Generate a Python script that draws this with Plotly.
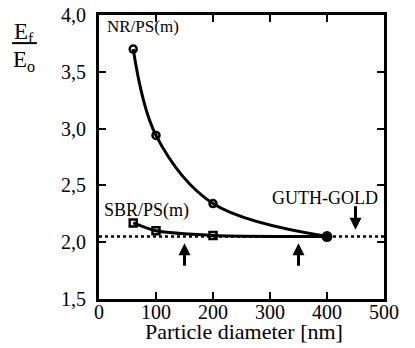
import plotly.graph_objects as go

# Data
nr_x = [60, 100, 200, 400]
nr_y = [3.70, 2.94, 2.34, 2.05]
sbr_x = [60, 100, 200, 400]
sbr_y = [2.17, 2.10, 2.06, 2.05]
guth_x = [400]
guth_y = [2.05]
guth_level = 2.05
x_range = [0, 500]
y_range = [1.5, 4.0]
x_ticks = [0, 100, 200, 300, 400, 500]
y_ticks = [1.5, 2.0, 2.5, 3.0, 3.5, 4.0]
up_arrow_x = [150, 350]
down_arrow_x = [450]

FONT = "Liberation Serif"
BLK = "black"

fig = go.Figure()

fig.add_trace(go.Scatter(x=x_range, y=[guth_level, guth_level], mode="lines",
                         line=dict(color=BLK, width=2.5, dash="dot"), hoverinfo="skip"))
fig.add_trace(go.Scatter(x=nr_x, y=nr_y, mode="lines",
                         line=dict(color=BLK, width=3, shape="spline", smoothing=1.0), hoverinfo="skip"))
fig.add_trace(go.Scatter(x=nr_x[:3], y=nr_y[:3], mode="markers",
                         marker=dict(symbol="circle-open", size=7, color=BLK, line=dict(width=2.5))))
fig.add_trace(go.Scatter(x=sbr_x, y=sbr_y, mode="lines",
                         line=dict(color=BLK, width=3, shape="spline", smoothing=0.6), hoverinfo="skip"))
fig.add_trace(go.Scatter(x=sbr_x[:3], y=sbr_y[:3], mode="markers",
                         marker=dict(symbol="square-open", size=7, color=BLK, line=dict(width=2.5))))
fig.add_trace(go.Scatter(x=guth_x, y=guth_y, mode="markers",
                         marker=dict(symbol="circle", size=11, color=BLK)))

ann = []
for xa in up_arrow_x:
    ann.append(dict(x=xa, y=1.99, ax=xa, ay=1.78, xref="x", yref="y", axref="x", ayref="y",
                    showarrow=True, arrowhead=2, arrowsize=0.8, arrowwidth=3, arrowcolor=BLK, text=""))
for xa in down_arrow_x:
    ann.append(dict(x=xa, y=2.11, ax=xa, ay=2.33, xref="x", yref="y", axref="x", ayref="y",
                    showarrow=True, arrowhead=2, arrowsize=0.8, arrowwidth=3, arrowcolor=BLK, text=""))

def label(x, y, text, size, ref="x"):
    return dict(x=x, y=y, xref="x" if ref == "x" else "paper", yref="y" if ref == "x" else "paper",
                text=text, showarrow=False, xanchor="center", yanchor="middle",
                font=dict(family=FONT, size=size, color=BLK))

ann.append(label(78, 3.90, "NR/PS(m)", 17))
ann.append(label(84, 2.28, "SBR/PS(m)", 18))
ann.append(label(396, 2.386, "GUTH-GOLD", 18))
# y-axis fraction label
ann.append(label(-0.263, 0.938, "E<sub>f</sub>", 23, ref="paper"))
ann.append(label(-0.263, 0.838, "E<sub>o</sub>", 23, ref="paper"))
# x-axis title
ann.append(label(0.509, -0.116, "Particle diameter [nm]", 22, ref="paper"))

fig.update_layout(
    width=407, height=340,
    margin=dict(l=91, r=31, t=7, b=49, autoexpand=False),
    paper_bgcolor="white", plot_bgcolor="white",
    showlegend=False,
    separators=",.",
    annotations=ann,
    shapes=[dict(type="line", xref="paper", yref="paper", x0=-0.305, x1=-0.218, y0=0.901, y1=0.901,
                 line=dict(color=BLK, width=2))],
    font=dict(family=FONT, color=BLK),
)
fig.update_xaxes(range=x_range, tickvals=x_ticks, ticks="inside", ticklen=7, tickwidth=2,
                 tickcolor=BLK, showline=True, linecolor=BLK, linewidth=3, mirror="allticks", showgrid=False,
                 zeroline=False, automargin=False, ticklabelstandoff=-7, ticklabeloverflow="allow",
                 tickfont=dict(family=FONT, size=20, color=BLK))
fig.update_yaxes(range=y_range, tickvals=y_ticks, tickformat=".1f", ticks="inside",
                 ticklen=7, tickwidth=2, tickcolor=BLK, showline=True, linecolor=BLK, linewidth=3,
                 mirror="allticks", showgrid=False, zeroline=False, automargin=False, ticklabelstandoff=6,
                 ticklabeloverflow="allow", tickfont=dict(family=FONT, size=20, color=BLK))

fig.write_html("out.html")
